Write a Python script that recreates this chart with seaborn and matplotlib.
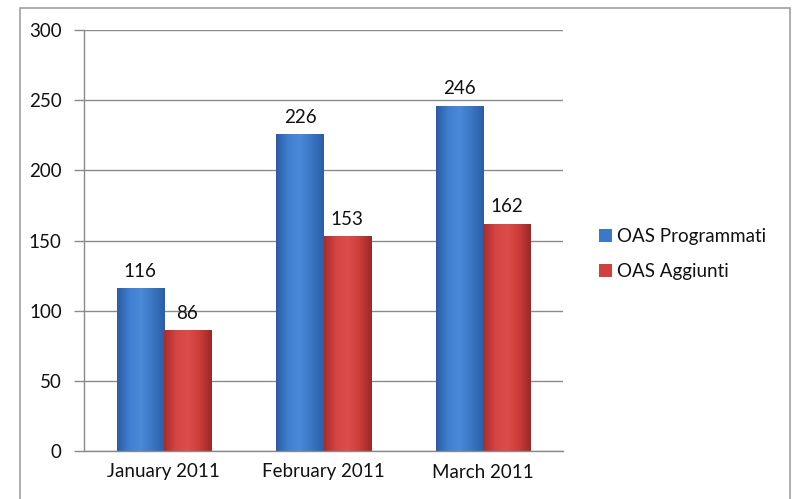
import numpy as np
import pandas as pd
import matplotlib
matplotlib.use("Agg")
import matplotlib.pyplot as plt
import seaborn as sns
from matplotlib.patches import Rectangle
from matplotlib.colors import LinearSegmentedColormap

months = ["January 2011", "February 2011", "March 2011"]
series_names = ["OAS Programmati", "OAS Aggiunti"]
programmati = [116, 226, 246]
aggiunti = [86, 153, 162]

df = pd.DataFrame({
    "month": months * 2,
    "series": [series_names[0]] * 3 + [series_names[1]] * 3,
    "value": programmati + aggiunti,
})

sns.set_theme(style="white")
plt.rcParams["font.family"] = ["Lato", "DejaVu Sans"]

FS = 13.5
fig = plt.figure(figsize=(7.92, 4.99), dpi=100)
ax = fig.add_axes([84 / 792, 1 - 451 / 499, (563 - 84) / 792, (451 - 30) / 499])

palette = {series_names[0]: "#3c78c8", series_names[1]: "#d33f3d"}
sns.barplot(data=df, x="month", y="value", hue="series", palette=palette,
            width=0.59, ax=ax, saturation=1, legend=True, edgecolor="none")

# gradient shading on bars
cmaps = {
    series_names[0]: LinearSegmentedColormap.from_list(
        "b", ["#2a5da6", "#3f7fd0", "#4a8ad8", "#3a76c4", "#2b5ea8"]),
    series_names[1]: LinearSegmentedColormap.from_list(
        "r", ["#a82c2c", "#d54543", "#dc4c49", "#cc3c3a", "#9a2929"]),
}
grad = np.linspace(0, 1, 64).reshape(1, -1)
for container, name in zip(ax.containers, series_names):
    for patch in container:
        x0, y0 = patch.get_x(), patch.get_y()
        w, h = patch.get_width(), patch.get_height()
        im = ax.imshow(grad, extent=[x0, x0 + w, y0, y0 + h], aspect="auto",
                       cmap=cmaps[name], zorder=patch.get_zorder() + 0.1,
                       interpolation="bicubic")
        im.set_clip_path(patch)
    ax.bar_label(container, fmt="%d", padding=6, fontsize=FS, color="#111111")

ax.set_xlim(-0.5, 2.5)
ax.set_ylim(0, 300)
ax.set_yticks(range(0, 301, 50))
ax.yaxis.grid(True, color="#8a8a8a", linewidth=1.0)
ax.set_axisbelow(True)
ax.set_xlabel("")
ax.set_ylabel("")
ax.set_xticks([0, 1, 2])
ax.set_xticklabels(months)
ax.set_xticks([-0.5, 0.5, 1.5, 2.5], minor=True)
ax.tick_params(axis="x", which="major", length=0, pad=9, labelsize=FS, labelcolor="#111111")
ax.tick_params(axis="x", which="minor", length=6, width=1, color="#8a8a8a", direction="out")
ax.tick_params(axis="y", length=7, width=1, color="#8a8a8a", direction="out",
               pad=9, labelsize=FS, labelcolor="#111111", left=True)
for s in ["top", "right"]:
    ax.spines[s].set_visible(False)
for s in ["left", "bottom"]:
    ax.spines[s].set_color("#8a8a8a")
    ax.spines[s].set_linewidth(1.0)

leg = ax.legend(loc="center left", bbox_to_anchor=(591 / 792, 1 - 254 / 499),
                bbox_transform=fig.transFigure, frameon=False, fontsize=FS,
                handlelength=0.7, handleheight=0.7, handletextpad=0.3,
                labelspacing=1.0, borderaxespad=0)
for t in leg.get_texts():
    t.set_color("#111111")

fig.patches.append(Rectangle((20 / 792, -0.05), (790 - 20) / 792, 1 - 8 / 499 + 0.05,
                             transform=fig.transFigure, fill=False,
                             edgecolor="#a0a0a0", linewidth=1.2, zorder=0))

fig.savefig("out.png", dpi=100)
